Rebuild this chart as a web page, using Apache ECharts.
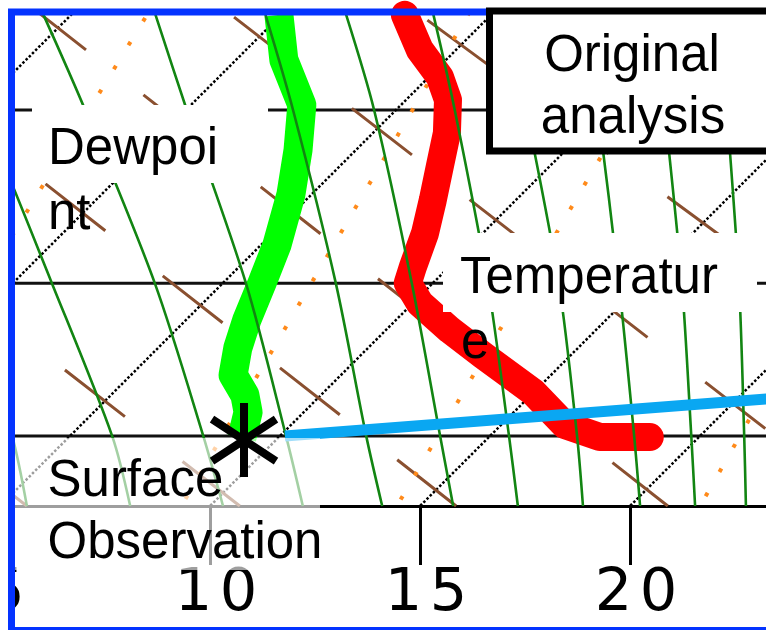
<!DOCTYPE html>
<html><head><meta charset="utf-8">
<script src="https://cdn.jsdelivr.net/npm/echarts@6/dist/echarts.min.js"></script>
<style>html,body{margin:0;padding:0;background:#fff}#c{width:766px;height:630px}</style>
</head><body><div id="c"></div>
<script>
// ---------------- data ----------------
// pressure levels (hPa) at which background curves were read
const pressureLevels = [950, 900, 800, 700, 650];
const isobars = [700, 800, 900];
const isotherms = [-5, 0, 5, 10, 15, 20];
const xTickValues = [5, 10, 15, 20];
// saturated (moist) adiabats: temperature (°C) at pressureLevels
const moistAdiabats = [
  [5.64, 3.62, -1.14, -6.81, -9.93],
  [8.10, 6.00, 0.93, -4.88, -8.29],
  [10.31, 8.17, 3.38, -2.40, -5.69],
  [12.21, 10.14, 5.55, 0.02, -3.02],
  [14.10, 12.05, 7.69, 2.55, -0.40],
  [15.79, 13.81, 9.50, 4.48, 1.52],
  [17.33, 15.45, 11.31, 6.40, 3.60],
  [18.88, 17.07, 13.00, 8.10, 5.33],
  [20.24, 18.43, 14.43, 9.81, 7.21],
  [21.55, 19.79, 15.93, 11.40, 8.88],
  [22.76, 21.05, 17.29, 12.88, 10.43]
];
// dry adiabats: temperature at 950 hPa and at 650 hPa
const dryAdiabats950 = [5.64, 10.71, 15.86, 20.90, 25.60, 30.90];
const dryAdiabats650 = [-21.14, -16.07, -10.79, -5.76, -1.24, 3.26];
// mixing-ratio lines: temperature at 950 hPa and at 650 hPa
const mixing950 = [1.36, 9.32, 14.45, 21.67];
const mixing650 = [-3.20, 4.44, 9.58, 16.60];
// sounding
const tempP = [650.5, 668.3, 682.4, 694.6, 712.5, 731.5, 750.3, 769.6, 790.1, 799.9, 812.5, 829.4, 845.6, 870.1, 892.5, 900.8, 900.8];
const tempT = [2.95, 4.14, 5.26, 6.00, 6.76, 7.40, 8.02, 8.62, 9.14, 9.40, 10.17, 11.52, 12.90, 14.98, 16.52, 17.64, 18.83];
const dewP = [650.5, 673.5, 697.3, 721.9, 747.4, 776.8, 799.9, 823.1, 841.0, 858.7, 872.1, 883.6, 901.5];
const dewT = [-0.05, 1.14, 2.64, 3.62, 4.52, 5.38, 5.93, 6.45, 6.90, 7.43, 8.19, 8.67, 9.14];
// surface observation (p, T) and analysis line (p, T)
const surfaceObsP = [902.9];
const surfaceObsT = [9.24];
const analysisP = [900.1, 873.0];
const analysisT = [10.12, 21.44];

// ---------------- styles (kept apart from the data) ----------------
const dryDashOffsets = [18.7, 16, 22.6, 17.7, 143.8, 138.5];
const mixDashOffsets = [23.2, 2.4, 1.5, 9.4];

// ---------------- skew-T projection ----------------
const SKEW = 30.87, P0 = 950;
const sx = (t, p) => t + SKEW * Math.log(P0 / p);
const xMin = 5, xMax = 5 + 766 / 42;

function ln(points, style, z, extra) {
  return Object.assign({
    type: 'line', data: points, showSymbol: false, symbol: 'none', silent: true,
    animation: false, clip: true, z: z, lineStyle: style
  }, extra || {});
}

const series = [];
isobars.forEach(p => series.push(ln([[xMin, p], [xMax, p]], {color: '#111', width: 3}, 1)));
isotherms.forEach(t => series.push(ln([[sx(t, 650), 650], [sx(t, 950), 950]],
  {color: '#000', width: 2.5, type: [2.5, 2]}, 1)));
dryAdiabats950.forEach((t, i) => series.push(ln(
  [[sx(dryAdiabats650[i], 650), 650], [sx(t, 950), 950]],
  {color: '#8a5030', width: 3, type: [76, 73], dashOffset: dryDashOffsets[i]}, 1)));
mixing950.forEach((t, i) => series.push(ln(
  [[sx(mixing650[i], 650), 650], [sx(t, 950), 950]],
  {color: '#ff8a1a', width: 4, type: [4, 24], dashOffset: mixDashOffsets[i]}, 1)));
series.push(ln(tempP.map((p, i) => [sx(tempT[i], p), p]),
  {color: '#ff0000', width: 28, cap: 'round', join: 'round'}, 5));
series.push(ln(dewP.map((p, i) => [sx(dewT[i], p), p]),
  {color: '#00ff00', width: 29, cap: 'butt', join: 'round'}, 5));
moistAdiabats.forEach(row => series.push(ln(pressureLevels.map((p, j) => [sx(row[j], p), p]),
  {color: '#128512', width: 2.6}, 6, {smooth: 0.3})));
series.push(ln(analysisP.map((p, i) => [sx(analysisT[i], p), p]),
  {color: '#0aa7f2', width: 11, cap: 'butt'}, 7));
series.push({
  type: 'scatter', silent: true, animation: false, z: 30,
  data: surfaceObsP.map((p, i) => [sx(surfaceObsT[i], p), p]),
  symbol: 'path://M30.2 0H38.2V74H30.2Z M4.4 12.66L68.4 54.66L64 61.34L0 19.34Z M0 54.66L64 12.66L68.4 19.34L4.4 61.34Z',
  symbolSize: [68.4, 74],
  itemStyle: {color: '#000', opacity: 1}
});

const F = '51px "Liberation Sans"';
function txt(s, x, y, align, z) {
  return {type: 'text', x: x, y: y, z: z, silent: true,
    style: {text: s, font: F, fill: '#000', align: align, textAlign: align,
            verticalAlign: 'middle', textVerticalAlign: 'middle'}};
}

const chart = echarts.init(document.getElementById('c'));
chart.setOption({
  animation: false,
  backgroundColor: '#fff',
  grid: {left: 0, right: 0, top: 13.9, bottom: 124, containLabel: false, outerBoundsMode: 'none'},
  xAxis: {
    type: 'value', min: xMin, max: xMax, position: 'bottom',
    axisLine: {show: true, onZero: false, lineStyle: {color: '#000', width: 3}},
    axisTick: {show: true, length: 59, customValues: xTickValues, lineStyle: {color: '#000', width: 3}},
    axisLabel: {
      show: true, margin: 59, customValues: xTickValues, padding: [0, 0, 0, 12],
      formatter: v => String(v).split('').map(ch => '{d|' + ch + '}').join(''),
      rich: {d: {width: 45, align: 'center', fontFamily: 'DejaVu Sans', fontSize: 59, lineHeight: 59, color: '#000'}}
    },
    splitLine: {show: false}
  },
  yAxis: {type: 'log', min: 650, max: 950, inverse: true, show: false, splitLine: {show: false}},
  series: series,
  graphic: {elements: [
    {type: 'rect', z: 20, silent: true, shape: {x: 32, y: 105, width: 236, height: 78}, style: {fill: '#fff'}},
    {type: 'rect', z: 20, silent: true, shape: {x: 443, y: 233, width: 314, height: 79}, style: {fill: '#fff'}},
    {type: 'rect', z: 20, silent: true, shape: {x: 15, y: 438, width: 305, height: 132}, style: {fill: 'rgba(255,255,255,0.62)'}},
    txt('Dewpoi', 48, 150.3, 'left', 21),
    txt('nt', 48, 215.3, 'left', 21),
    txt('Temperatur', 460, 279.3, 'left', 21),
    txt('e', 461, 344.3, 'left', 21),
    txt('Surface', 47.5, 482.3, 'left', 21),
    txt('Observation', 47.5, 544.3, 'left', 21),
    {type: 'rect', z: 39, silent: true, shape: {x: 0, y: 0, width: 8, height: 630}, style: {fill: '#fff'}},
    {type: 'rect', z: 40, silent: true, shape: {x: 11.5, y: 12, width: 800, height: 618.5}, style: {fill: 'none', stroke: '#0433ff', lineWidth: 7}},
    {type: 'rect', z: 45, silent: true, shape: {x: 489.5, y: 11, width: 400, height: 140}, style: {fill: '#fff', stroke: '#000', lineWidth: 7}},
    txt('Original', 632, 57.3, 'center', 46),
    txt('analysis', 633, 119.3, 'center', 46)
  ]}
});
</script>
</body></html>
